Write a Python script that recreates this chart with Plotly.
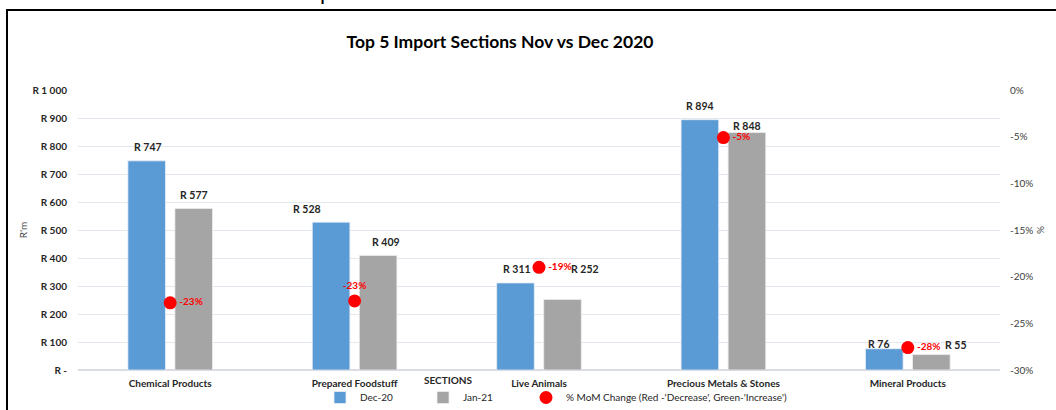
import plotly.graph_objects as go

# ---- data ----
categories = ["Chemical Products", "Prepared Foodstuff", "Live Animals",
              "Precious Metals & Stones", "Mineral Products"]
dec20 = [747, 528, 311, 894, 76]
jan21 = [577, 409, 252, 848, 55]
mom_change = [-0.228, -0.226, -0.19, -0.051, -0.276]

left_tickvals = [0, 100, 200, 300, 400, 500, 600, 700, 800, 900, 1000]
left_ticktext = ["R -", "R 100", "R 200", "R 300", "R 400", "R 500",
                 "R 600", "R 700", "R 800", "R 900", "R 1 000"]
right_tickvals = [0, -0.05, -0.10, -0.15, -0.20, -0.25, -0.30]
right_ticktext = ["0%", "-5%", "-10%", "-15%", "-20%", "-25%", "-30%"]

# ---- style ----
FONT = "Lato, 'Open Sans', sans-serif"
BLUE = "#5b9bd5"
GRAY = "#a5a5a5"
RED = "#ff0000"
# label nudges (px): (dx, dy above bar top)
dec_nudge = [(1, 14), (-24, 13), (1, 14), (0, 14), (-6, 5)]
jan_nudge = [(0, 13), (8, 13), (22, 30), (0, 7), (24, 10)]
bar_offset = 23.5
pct_pos = ["middle right", "top center", "middle right", "middle right", "middle right"]

L, R, T, B = 78, 56, 90, 40
W, H = 1056, 410
pw, ph = W - L - R, H - T - B


def px_x(p):
    return (p - L) / pw


def px_y(p):
    return (H - B - p) / ph


fig = go.Figure()
fig.add_trace(go.Bar(x=categories, y=dec20, name="Dec-20", legend="legend",
                     marker=dict(color=BLUE, line=dict(color="#e8eef6", width=0.8))))
fig.add_trace(go.Bar(x=categories, y=jan21, name="Jan-21", legend="legend",
                     marker=dict(color=GRAY, line=dict(color="#eeeeee", width=0.8))))
fig.add_trace(go.Scatter(x=categories, y=mom_change, yaxis="y2", legend="legend2",
                         name="% MoM Change (Red -'Decrease', Green-'Increase')",
                         mode="markers+text",
                         marker=dict(color=RED, size=13),
                         text=[f"{round(v*100):d}%" for v in mom_change],
                         textposition=pct_pos,
                         textfont=dict(color=RED, size=10, family=FONT, weight="bold"),
                         cliponaxis=False))

annotations = []
for vals, nudges, sign in ((dec20, dec_nudge, -1), (jan21, jan_nudge, 1)):
    for c, v, (dx, dy) in zip(categories, vals, nudges):
        annotations.append(dict(x=c, y=v, xref="x", yref="y", text=f"R {v}",
                                showarrow=False, xanchor="center", yanchor="middle",
                                xshift=sign * bar_offset + dx, yshift=dy,
                                font=dict(size=10.5, color="#262626", family=FONT,
                                          weight="bold")))

annotations.append(dict(x=px_x(448), y=px_y(380), xref="x domain", yref="y domain",
                        text="SECTIONS", showarrow=False,
                        xanchor="center", yanchor="middle",
                        font=dict(size=10, color="#262626", family=FONT, weight="bold")))
# cropped heading glyph at the very top edge
annotations.append(dict(x=px_x(326), y=px_y(7), xref="x domain",
                        yref="y domain", text="p", showarrow=False,
                        xanchor="center", yanchor="bottom",
                        font=dict(size=22, color="#000000", family=FONT)))

legend_font = dict(size=10, color="#262626", family=FONT)
fig.update_layout(
    width=W, height=H,
    margin=dict(l=L, r=R, t=T, b=B, autoexpand=False),
    paper_bgcolor="white", plot_bgcolor="white",
    font=dict(family=FONT, color="#404040"),
    title=dict(text="<b>Top 5 Import Sections Nov vs Dec 2020</b>",
               x=500 / W, xanchor="center", y=1 - 42 / H, yanchor="middle",
               font=dict(size=17.5, color="#000000", family=FONT)),
    barmode="group", bargap=0.49, bargroupgap=0.2,
    showlegend=True,
    legend=dict(orientation="h", x=px_x(320), xanchor="left",
                y=px_y(383), yanchor="top",
                entrywidth=58, entrywidthmode="pixels", itemwidth=30,
                font=legend_font, bgcolor="rgba(0,0,0,0)"),
    legend2=dict(orientation="h", x=px_x(526), xanchor="left",
                 y=px_y(383), yanchor="top", itemwidth=30,
                 font=legend_font, bgcolor="rgba(0,0,0,0)"),
    xaxis=dict(showgrid=False, showline=False, ticks="outside", ticklen=4,
               tickcolor="rgba(0,0,0,0)",
               tickfont=dict(size=10, color="#262626", family=FONT, weight="bold")),
    yaxis=dict(range=[0, 1000], tickvals=left_tickvals, ticktext=left_ticktext,
               showgrid=True, gridcolor="#e3e8ef", gridwidth=1,
               zeroline=True, zerolinecolor="#d9dde3", zerolinewidth=1.5,
               ticks="outside", ticklen=8, tickcolor="rgba(0,0,0,0)",
               tickfont=dict(size=10, color="#262626", family=FONT, weight="bold"),
               title=dict(text="R'm", standoff=3,
                          font=dict(size=10, color="#404040", family=FONT))),
    yaxis2=dict(range=[-0.30, 0], overlaying="y", side="right",
                tickvals=right_tickvals, ticktext=right_ticktext,
                showgrid=False, zeroline=False,
                ticks="outside", ticklen=7, tickcolor="rgba(0,0,0,0)",
                tickfont=dict(size=10, color="#404040", family=FONT),
                title=dict(text="%", standoff=4,
                           font=dict(size=10, color="#404040", family=FONT))),
    annotations=annotations,
    shapes=[dict(type="rect", xref="x domain", yref="y domain",
                 x0=px_x(7), x1=px_x(1062), y0=px_y(420), y1=px_y(10),
                 line=dict(color="#000000", width=2), fillcolor="rgba(0,0,0,0)",
                 layer="below")],
)

fig.write_html("out.html", config={"displayModeBar": False},
               post_script="document.body.style.margin='0';document.body.style.padding='0';")
